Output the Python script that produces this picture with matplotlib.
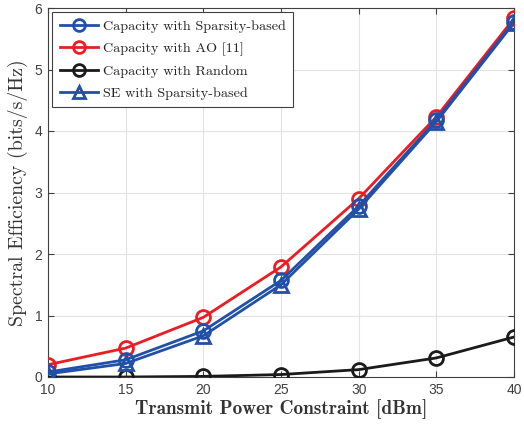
import numpy as np
import matplotlib
matplotlib.use('Agg')
import matplotlib.pyplot as plt

# Data
power_dbm = [10, 15, 20, 25, 30, 35, 40]
cap_sparsity = [0.08, 0.28, 0.75, 1.57, 2.78, 4.18, 5.78]
cap_ao = [0.20, 0.47, 0.97, 1.79, 2.90, 4.23, 5.83]
cap_random = [0.00, 0.00, 0.01, 0.04, 0.12, 0.31, 0.65]
se_sparsity = [0.05, 0.22, 0.67, 1.50, 2.73, 4.15, 5.76]

x_ticks = [10, 15, 20, 25, 30, 35, 40]
y_ticks = [0, 1, 2, 3, 4, 5, 6]

BLUE = '#2150a8'
RED = '#ec1c24'
BLACK = '#1a1a1a'
AX_GRAY = '#404040'

plt.rcParams['axes.unicode_minus'] = False

fig = plt.figure(figsize=(5.24, 4.25), dpi=100)
ax = fig.add_axes([48 / 524, 1 - 377 / 425, (514 - 48) / 524, (377 - 8) / 425])

lw = 2.0
ms = 10
ax.plot(power_dbm, cap_sparsity, '-o', color=BLUE, lw=lw, ms=ms, mfc='none', mew=2.0,
        label='Capacity with Sparsity-based', zorder=4)
ax.plot(power_dbm, cap_ao, '-o', color=RED, lw=lw, ms=ms, mfc='none', mew=2.0,
        label='Capacity with AO [11]', zorder=3)
ax.plot(power_dbm, cap_random, '-o', color=BLACK, lw=lw, ms=ms, mfc='none', mew=2.0,
        label='Capacity with Random', zorder=3)
ax.plot(power_dbm, se_sparsity, '-^', color=BLUE, lw=lw, ms=ms, mfc='none', mew=2.0,
        label='SE with Sparsity-based', zorder=4)

ax.set_xlim(10, 40)
ax.set_ylim(0, 6)
ax.set_xticks(x_ticks)
ax.set_yticks(y_ticks)
ax.grid(True, color='#e3e3e3', lw=0.8)
ax.set_axisbelow(True)

ax.tick_params(direction='in', top=True, right=True, length=4, width=0.8,
               colors=AX_GRAY, labelsize=10, pad=4)
for lab in ax.get_xticklabels() + ax.get_yticklabels():
    lab.set_family(['Liberation Sans', 'DejaVu Sans'])
    lab.set_color(AX_GRAY)
for sp in ax.spines.values():
    sp.set_color(AX_GRAY)
    sp.set_linewidth(0.8)

ax.set_xlabel('Transmit Power Constraint [dBm]', family=['cmb10', 'DejaVu Serif'],
              fontsize=13.9, color='#333333', labelpad=2)
ax.set_ylabel('Spectral Efficiency (bits/s/Hz)', family=['cmr10', 'DejaVu Serif'],
              fontsize=14.3, color='#333333', labelpad=5)

leg = ax.legend(loc='upper left', prop={'family': ['cmr10', 'DejaVu Serif'], 'size': 10.2},
                frameon=True, fancybox=False, edgecolor=AX_GRAY, framealpha=1,
                borderaxespad=0.3, handlelength=2.7, labelspacing=0.64, borderpad=0.55,
                handletextpad=0.3, markerscale=0.85)
leg.get_frame().set_linewidth(0.8)
for t in leg.get_texts():
    t.set_color('#222222')

fig.savefig('out.png', dpi=100)
